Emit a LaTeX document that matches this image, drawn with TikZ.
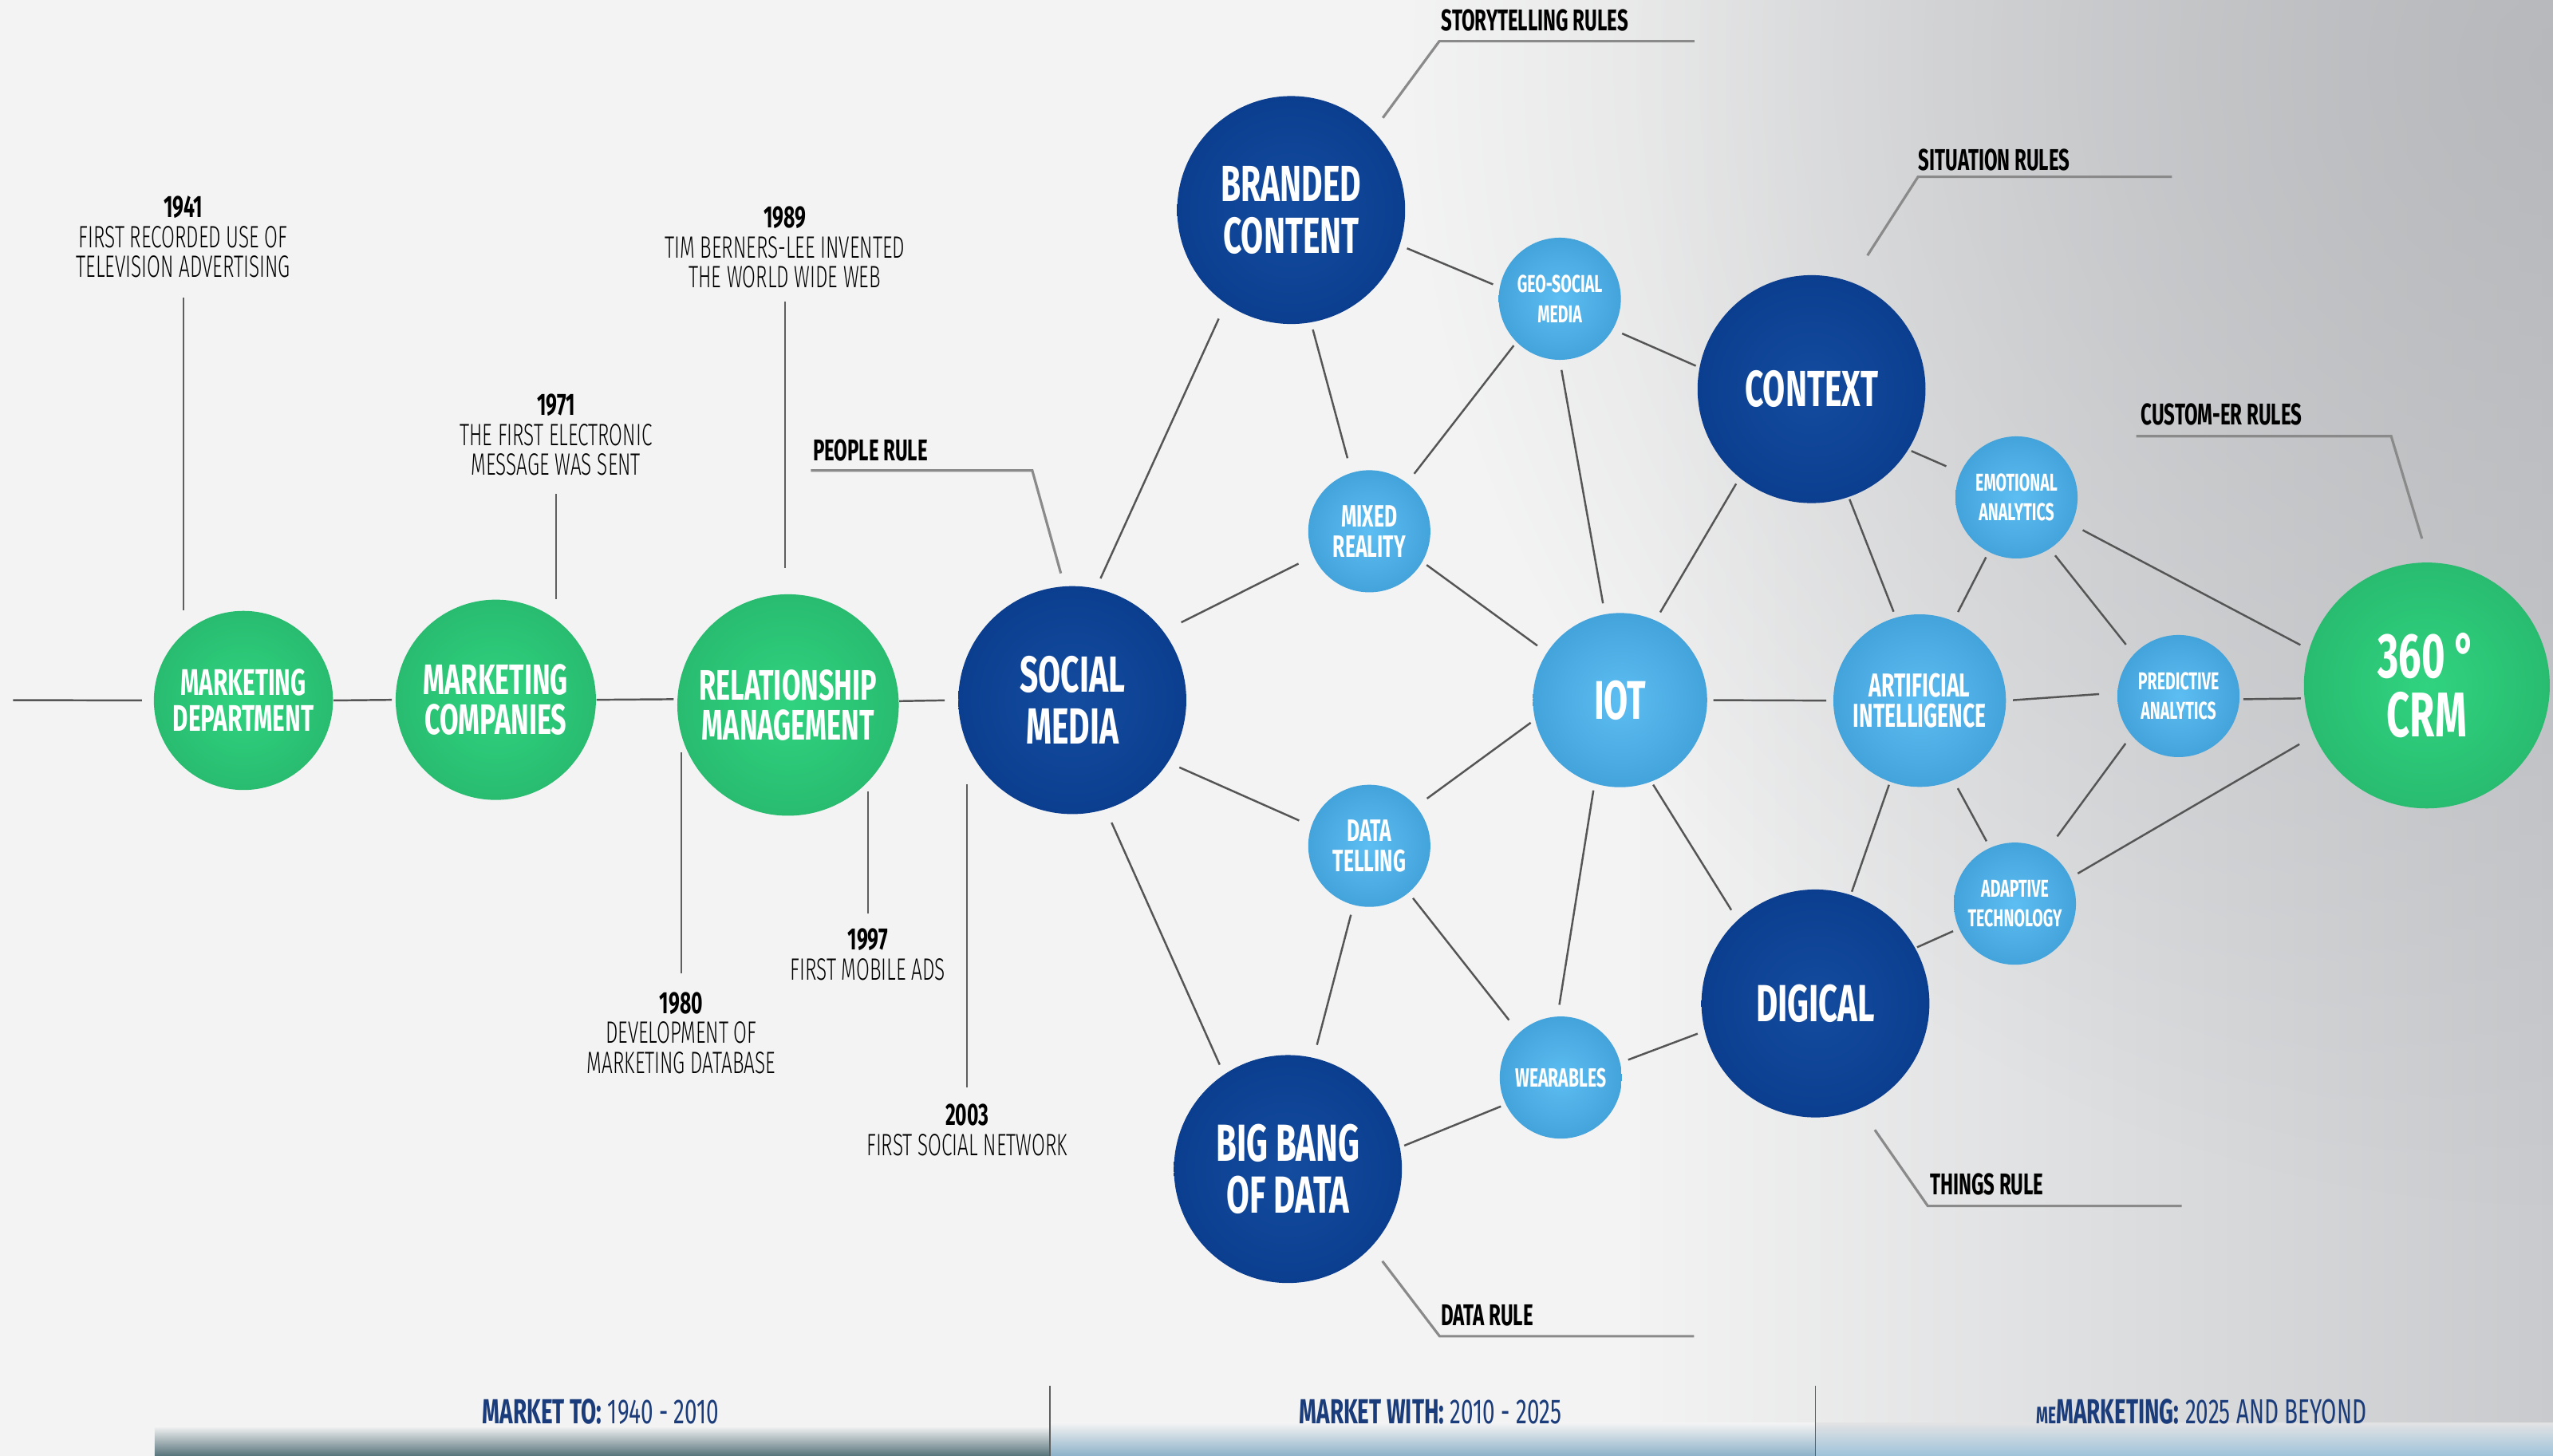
\documentclass[tikz,border=0pt]{standalone}
\usepackage{fontspec}
\usetikzlibrary{calc,fadings}
\newfontfamily\bebas[FakeStretch=0.64]{Fira Sans}
\IfFontExistsTF{Fira Sans Light}
  {\newfontfamily\thinf[FakeStretch=0.63]{Fira Sans Light}}
  {\newfontfamily\thinf[FakeStretch=0.63]{Fira Sans}}
\newcommand{\px}{0.0204082cm}
\definecolor{bgc}{HTML}{F3F3F3}
\definecolor{bgr}{HTML}{C8CACD}
\definecolor{bgd}{HTML}{B2B4B7}
\definecolor{grIn}{HTML}{30D380}
\definecolor{grOut}{HTML}{21A560}
\definecolor{dbIn}{HTML}{144C9F}
\definecolor{dbOut}{HTML}{02307F}
\definecolor{lbIn}{HTML}{5DBEF3}
\definecolor{lbOut}{HTML}{2A88C3}
\definecolor{conng}{HTML}{555555}
\definecolor{ruleg}{HTML}{8A8A8A}
\definecolor{tlg}{HTML}{5E5E5E}
\definecolor{navyt}{HTML}{1B3C7A}
\definecolor{bandA}{HTML}{58757C}
\definecolor{bandB}{HTML}{8DB2C9}
\definecolor{bandC}{HTML}{9FC3DA}
\pgfdeclareradialshading{greenball}{\pgfpoint{0bp}{0bp}}{color(0bp)=(grIn); color(50bp)=(grOut)}
\pgfdeclareradialshading{blueball}{\pgfpoint{0bp}{0bp}}{color(0bp)=(dbIn); color(50bp)=(dbOut)}
\pgfdeclareradialshading{lightball}{\pgfpoint{0bp}{0bp}}{color(0bp)=(lbIn); color(50bp)=(lbOut)}
\tikzfading[name=blobfade, inner color=transparent!0, outer color=transparent!100]
\tikzset{
  ball/.style={circle, inner sep=0pt, text=white, align=center},
  gball/.style={ball, shading=greenball},
  dball/.style={ball, shading=blueball},
  lball/.style={ball, shading=lightball},
  cf/.style 2 args={font={\bebas\bfseries\fontsize{#1}{#2}\selectfont}},
  conn/.style={draw=conng, line width=0.7pt},
  ruleline/.style={draw=ruleg, line width=0.9pt},
  tline/.style={draw=tlg, line width=0.6pt},
  rulelab/.style={anchor=base west, inner sep=0pt, text=black, font={\bebas\bfseries\fontsize{10.7}{12}\selectfont}},
  datelab/.style={anchor=north, inner sep=0pt, align=center, text=black, font={\thinf\fontsize{11}{10.7}\selectfont}},
  botlab/.style={anchor=base, inner sep=0pt, text=navyt, font={\bebas\fontsize{12.4}{14}\selectfont}}
}
\newcommand{\conlink}[6]{\draw[conn, shorten <=#3*\px, shorten >=#6*\px] (#1.#2) -- (#4.#5);}
\begin{document}
\begin{tikzpicture}[x=\px, y=-\px]
\useasboundingbox (0,0) rectangle (1568,894);
% background
\fill[bgc] (0,0) rectangle (1568,894);
\shade[left color=bgc, right color=bgr] (1000,0) rectangle (1568,894);
\begin{scope}
\clip (0,0) rectangle (1568,894);
\fill[bgd, path fading=blobfade, fill opacity=0.8] (1568,40) circle (700);
\end{scope}
% bottom band
\shade[top color=bgc, bottom color=bandA] (95,876) rectangle (645,894);
\shade[top color=bgc, bottom color=bandB] (645,874) rectangle (1115,894);
\shade[top color=bgc!60!bgr, bottom color=bandC] (1115,874) rectangle (1568,894);
\draw[tlg, line width=0.5pt] (645,851) -- (645,894);
\draw[tlg, line width=0.5pt] (1115,851) -- (1115,894);

% nodes
\node[gball, minimum size=110*\px, cf={13.2}{12.8}] (md) at (149.5,430.2) {MARKETING\\DEPARTMENT};
\node[gball, minimum size=123*\px, cf={15.2}{14.2}] (mc) at (304.5,429.8) {MARKETING\\COMPANIES};
\node[gball, minimum size=136*\px, cf={15.2}{14.2}] (rm) at (484,433) {RELATIONSHIP\\MANAGEMENT};
\node[dball, minimum size=140*\px, cf={18.1}{18.6}] (sm) at (658.6,430) {SOCIAL\\MEDIA};
\node[dball, minimum size=140*\px, cf={18.1}{18.6}] (bc) at (793,129) {BRANDED\\CONTENT};
\node[lball, minimum size=75*\px, cf={8.7}{10.7}] (geo) at (958,183.5) {GEO-SOCIAL\\MEDIA};
\node[lball, minimum size=75*\px, cf={11}{10.7}] (mr) at (841,326.3) {MIXED\\REALITY};
\node[lball, minimum size=107*\px, cf={19.4}{20}] (iot) at (995,430) {IOT};
\node[dball, minimum size=140*\px, cf={18.1}{18.6}] (ctx) at (1112.6,239) {CONTEXT};
\node[lball, minimum size=75*\px, cf={8.7}{10.7}] (emo) at (1238.5,305.5) {EMOTIONAL\\ANALYTICS};
\node[lball, minimum size=106*\px, cf={11.8}{11}] (ai) at (1179,430.3) {ARTIFICIAL\\INTELLIGENCE};
\node[lball, minimum size=75*\px, cf={8.7}{10.7}] (pred) at (1338,427.5) {PREDICTIVE\\ANALYTICS};
\node[lball, minimum size=75*\px, cf={8.7}{10.7}] (adap) at (1237.5,555) {ADAPTIVE\\TECHNOLOGY};
\node[dball, minimum size=140*\px, cf={18.6}{18.6}] (dig) at (1115,616.3) {DIGICAL};
\node[lball, minimum size=75*\px, cf={11}{10.7}] (dt) at (841,519.5) {DATA\\TELLING};
\node[lball, minimum size=75*\px, cf={9.4}{10.7}] (wear) at (958.6,661.8) {WEARABLES};
\node[dball, minimum size=140*\px, cf={18.6}{18.6}] (bb) at (791,718) {BIG BANG\\OF DATA};
\node[gball, minimum size=151*\px, cf={22.5}{21}] (crm) at (1490.5,421) {360 °\\CRM};

% main axis
\coordinate (axstart) at (8,430);
\draw[conn, shorten >=7*\px] (axstart) -- (md.180);
\draw[conn, shorten >=2*\px] (md.0) -- (mc.180);
\draw[conn, shorten >=2*\px] (mc.0) -- (rm.177.5);
\draw[conn, shorten >=8*\px] (rm.2.5) -- (sm.180);

% network links
\conlink{sm}{78.7}{6.5}{bc}{235.7}{10}
\conlink{sm}{37.6}{12}{mr}{204.6}{10}
\conlink{sm}{327.1}{7.4}{dt}{161.4}{8}
\conlink{sm}{287.7}{8.7}{bb}{124.3}{6.3}
\conlink{bc}{342.1}{4.6}{geo}{169.6}{4.2}
\conlink{bc}{280.9}{4.3}{mr}{107.5}{9}
\conlink{geo}{225.5}{2.5}{mr}{52.6}{7}
\conlink{geo}{330.5}{6}{ctx}{169.6}{2.2}
\conlink{geo}{270}{6}{iot}{100.6}{6.5}
\conlink{mr}{330.6}{3}{iot}{147.1}{7}
\conlink{dt}{40.1}{8}{iot}{193.3}{3}
\conlink{dt}{255.5}{6}{bb}{77.4}{8}
\conlink{dt}{310.6}{4}{wear}{133.1}{9.7}
\conlink{bb}{11.9}{2.6}{wear}{206.4}{3}
\conlink{iot}{253.8}{4}{wear}{93.3}{7}
\conlink{iot}{66.9}{5.5}{ctx}{231.6}{4}
\conlink{iot}{291.4}{2}{dig}{133.3}{7}
\conlink{iot}{0}{3.5}{ai}{180.5}{4}
\conlink{wear}{14.6}{5}{dig}{194.6}{4.4}
\conlink{ctx}{328.2}{1.8}{emo}{156.4}{9.4}
\conlink{ctx}{289.7}{1.2}{ai}{106.4}{3.6}
\conlink{dig}{72.1}{1.8}{ai}{250.8}{1.7}
\conlink{dig}{29}{1}{adap}{204.4}{3.7}
\conlink{ai}{67}{6}{emo}{243.1}{3.4}
\conlink{ai}{0.8}{4}{pred}{177.7}{11}
\conlink{ai}{293.2}{5.4}{adap}{114.7}{4.3}
\conlink{emo}{303.5}{5}{pred}{137.3}{7.4}
\conlink{emo}{334.3}{7.5}{crm}{163.5}{5.8}
\conlink{pred}{357}{2}{crm}{186.3}{2}
\conlink{pred}{220.8}{6}{adap}{59.7}{11}
\conlink{adap}{25}{5}{crm}{204.9}{10.4}

% rule annotations
\node[rulelab] (stlab) at (885,19) {STORYTELLING RULES};
\coordinate (stA) at (884,25.3); \coordinate (stB) at (1040.7,25.3);
\draw[ruleline, shorten >=9.6*\px] (stB) -- (stA) -- (bc.44.7);

\node[rulelab] (silab) at (1178,104.4) {SITUATION RULES};
\coordinate (siA) at (1178,108.6); \coordinate (siB) at (1334,108.6);
\draw[ruleline, shorten >=19*\px] (siB) -- (siA) -- (ctx.70.3);

\node[rulelab] (culab) at (1314.6,261) {CUSTOM-ER RULES};
\coordinate (cuA) at (1312,267.9); \coordinate (cuB) at (1468.6,267.9);
\draw[ruleline, shorten >=15*\px] (cuA) -- (cuB) -- (crm.89.4);

\node[rulelab] (pelab) at (499,283) {PEOPLE RULE};
\coordinate (peA) at (498,289); \coordinate (peB) at (634,289);
\draw[ruleline, shorten >=8*\px] (peA) -- (peB) -- (sm.94.4);

\node[rulelab] (thlab) at (1185,734) {THINGS RULE};
\coordinate (thA) at (1184,740.7); \coordinate (thB) at (1340,740.7);
\draw[ruleline, shorten >=15.7*\px] (thB) -- (thA) -- (dig.293.7);

\node[rulelab] (dalab) at (884.7,814) {DATA RULE};
\coordinate (daA) at (884.2,820.7); \coordinate (daB) at (1040.5,820.7);
\draw[ruleline, shorten >=10.8*\px] (daB) -- (daA) -- (bb.317.5);

% timeline
\node[datelab] (t1941) at (112.5,120) {{\bebas\bfseries 1941}\\FIRST RECORDED USE OF\\TELEVISION ADVERTISING};
\draw[tline] ([yshift=-12*\px]t1941.south) -- (t1941.south |- md.north);
\node[datelab] (t1971) at (341.5,241.7) {{\bebas\bfseries 1971}\\THE FIRST ELECTRONIC\\MESSAGE WAS SENT};
\draw[tline] ([yshift=-11*\px]t1971.south) -- (t1971.south |- mc.north);
\node[datelab] (t1989) at (482,126.6) {{\bebas\bfseries 1989}\\TIM BERNERS-LEE INVENTED\\THE WORLD WIDE WEB};
\draw[tline, shorten >=16*\px] ([yshift=-8*\px]t1989.south) -- (t1989.south |- rm.north);
\node[datelab] (t1980) at (418.4,609) {{\bebas\bfseries 1980}\\DEVELOPMENT OF\\MARKETING DATABASE};
\draw[tline] ([yshift=11*\px]t1980.north) -- ++(0,-136);
\node[datelab] (t1997) at (533,570) {{\bebas\bfseries 1997}\\FIRST MOBILE ADS};
\draw[tline] ([yshift=9*\px]t1997.north) -- ++(0,-75);
\node[datelab] (t2003) at (594,677.8) {{\bebas\bfseries 2003}\\FIRST SOCIAL NETWORK};
\draw[tline] ([yshift=10*\px]t2003.north) -- ++(0,-186);

% bottom labels
\node[botlab] (era1) at (369,874.6) {{\bfseries MARKET TO:} 1940 - 2010};
\node[botlab] (era2) at (878.5,874.6) {{\bfseries MARKET WITH:} 2010 - 2025};
\node[botlab] (era3) at (1352,874.6) {{\bfseries{\fontsize{8.5}{10}\selectfont ME}MARKETING:} 2025 AND BEYOND};
\end{tikzpicture}
\end{document}
